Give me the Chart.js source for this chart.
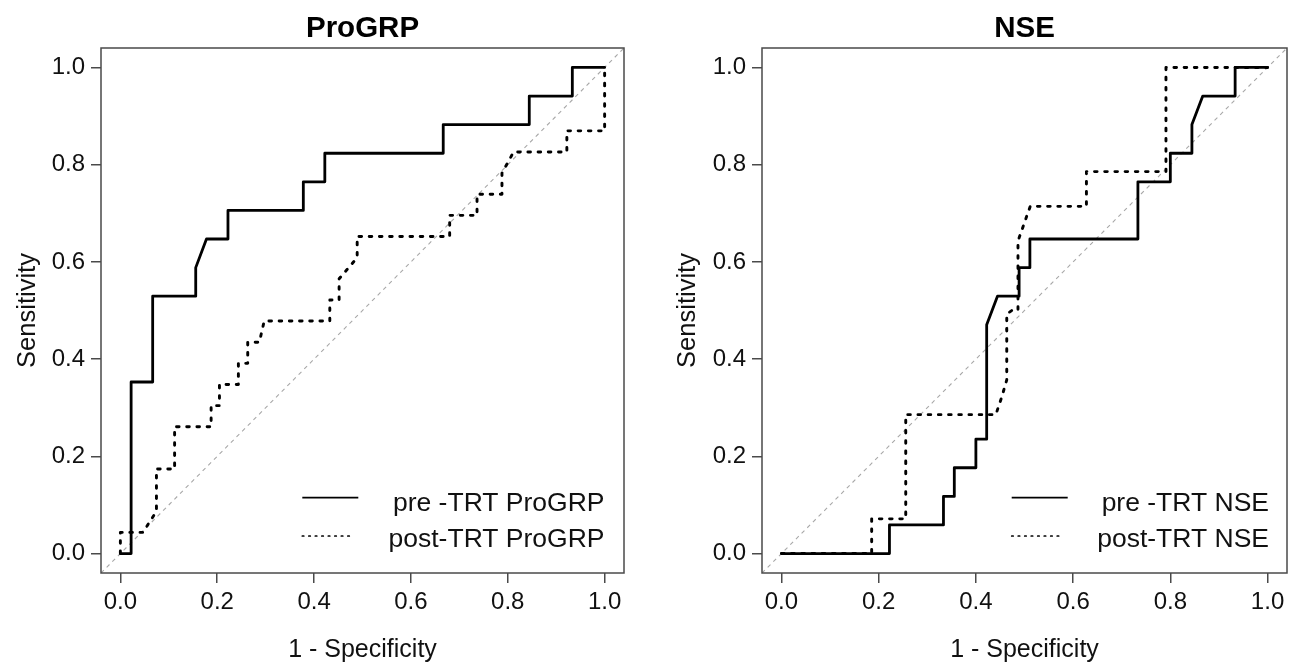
<!DOCTYPE html>
<html><head><meta charset="utf-8">
<script src="https://cdn.jsdelivr.net/npm/chart.js@4"></script>
<style>
html,body{margin:0;padding:0;background:#fff;}
#wrap{position:relative;width:1292px;height:665px;overflow:hidden;}
.c{position:absolute;top:0;width:646px;height:665px;}
</style></head><body>
<div id="wrap">
<div class="c" style="left:0"><canvas id="c1" width="646" height="665"></canvas></div>
<div class="c" style="left:646px"><canvas id="c2" width="646" height="665"></canvas></div>
</div>
<script>
// ---- data ----
const tickValues = [0, 0.2, 0.4, 0.6, 0.8, 1.0];
const tickLabels = ["0.0", "0.2", "0.4", "0.6", "0.8", "1.0"];
const panelTitles = ["ProGRP", "NSE"];
const xAxisTitle = "1 - Specificity";
const yAxisTitle = "Sensitivity";
const progrpLegend = ["pre -TRT ProGRP", "post-TRT ProGRP"];
const nseLegend = ["pre -TRT NSE", "post-TRT NSE"];
const identityX = [-0.04, 1.04];
const identityY = [-0.04, 1.04];

// ProGRP pre-treatment ROC (1-specificity, sensitivity)
const progrpPreFPR = [0, 0.0222, 0.0222, 0.0667, 0.0667, 0.1556, 0.1556, 0.1778, 0.2222, 0.2222, 0.3778, 0.3778, 0.4222, 0.4222, 0.6667, 0.6667, 0.8444, 0.8444, 0.9333, 0.9333, 1];
const progrpPreTPR = [0, 0, 0.3529, 0.3529, 0.5294, 0.5294, 0.5882, 0.6471, 0.6471, 0.7059, 0.7059, 0.7647, 0.7647, 0.8235, 0.8235, 0.8824, 0.8824, 0.9412, 0.9412, 1, 1];
// ProGRP post-treatment ROC
const progrpPostFPR = [0, 0, 0.0466, 0.0745, 0.0745, 0.112, 0.112, 0.1874, 0.1874, 0.2046, 0.2046, 0.2437, 0.2437, 0.263, 0.263, 0.287, 0.297, 0.4325, 0.4325, 0.4517, 0.4517, 0.489, 0.489, 0.680, 0.680, 0.7365, 0.7365, 0.788, 0.788, 0.812, 0.922, 0.922, 1, 1];
const progrpPostTPR = [0, 0.0435, 0.0435, 0.087, 0.1739, 0.1739, 0.2609, 0.2609, 0.3043, 0.3043, 0.3478, 0.3478, 0.3913, 0.3913, 0.4348, 0.4348, 0.4783, 0.4783, 0.5217, 0.5217, 0.5652, 0.6087, 0.6522, 0.6522, 0.6957, 0.6957, 0.7391, 0.7391, 0.7826, 0.8261, 0.8261, 0.8696, 0.8696, 1];
// NSE pre-treatment ROC
const nsePreFPR = [0, 0.2222, 0.2222, 0.3333, 0.3333, 0.3556, 0.3556, 0.4, 0.4, 0.4222, 0.4222, 0.4444, 0.4889, 0.4889, 0.5111, 0.5111, 0.7333, 0.7333, 0.8, 0.8, 0.8444, 0.8444, 0.8667, 0.9333, 0.9333, 1];
const nsePreTPR = [0, 0, 0.0588, 0.0588, 0.1176, 0.1176, 0.1765, 0.1765, 0.2353, 0.2353, 0.4706, 0.5294, 0.5294, 0.5882, 0.5882, 0.6471, 0.6471, 0.7647, 0.7647, 0.8235, 0.8235, 0.8824, 0.9412, 0.9412, 1, 1];
// NSE post-treatment ROC
const nsePostFPR = [0, 0.1856, 0.1856, 0.2557, 0.2557, 0.441, 0.453, 0.4635, 0.4635, 0.474, 0.4866, 0.4866, 0.5118, 0.6274, 0.6274, 0.791, 0.791, 1];
const nsePostTPR = [0, 0, 0.0714, 0.0714, 0.2857, 0.2857, 0.3214, 0.3571, 0.4929, 0.5, 0.5, 0.6429, 0.7143, 0.7143, 0.7857, 0.7857, 1, 1];

// ---- styling ----
const FONT = "'Liberation Sans', Arial, Helvetica, sans-serif";
const solidStyle = { borderWidth: 2.8, borderDash: [], borderCapStyle: 'round' };
const dottedStyle = { borderWidth: 2.9, borderDash: [2.6, 7.6], borderCapStyle: 'round' };

function pts(xs, ys) { return xs.map((x, i) => ({ x: x, y: ys[i] })); }
function curve(label, xs, ys, style) {
  return Object.assign({
    label: label, data: pts(xs, ys), showLine: true, borderColor: '#000',
    borderJoinStyle: 'round', pointRadius: 0, pointHoverRadius: 0, fill: false, tension: 0, order: 1
  }, style);
}
function identity() {
  return { label: 'identity', data: pts(identityX, identityY), showLine: true, borderColor: '#a8a8a8',
    borderWidth: 1.1, borderDash: [4, 4], pointRadius: 0, fill: false, tension: 0, order: 5 };
}

const decor = {
  id: 'decor',
  afterDraw(chart, args, o) {
    const ctx = chart.ctx, a = chart.chartArea;
    const cx = (a.left + a.right) / 2, cy = (a.top + a.bottom) / 2;
    ctx.save();
    // box
    ctx.strokeStyle = '#4a4a4a'; ctx.lineWidth = 1.5; ctx.setLineDash([]);
    ctx.strokeRect(a.left, a.top, a.right - a.left, a.bottom - a.top);
    // title
    ctx.fillStyle = '#000';
    ctx.textAlign = 'center'; ctx.textBaseline = 'alphabetic';
    ctx.font = 'bold 29.5px ' + FONT;
    ctx.fillText(o.title, cx, 37);
    // axis titles
    ctx.font = '25px ' + FONT; ctx.fillStyle = '#111';
    ctx.textBaseline = 'middle';
    ctx.fillText(xAxisTitle, cx, 650);
    ctx.save();
    ctx.translate(o.yTitleX, cy); ctx.rotate(-Math.PI / 2);
    ctx.font = '25.5px ' + FONT;
    ctx.fillText(yAxisTitle, 0, 0);
    ctx.restore();
    // legend
    const ds = chart.data.datasets;
    const L = o.legend;
    const rows = [{ d: ds[0], y: 497.7, x2: L.x1 + 56, lw: 1.8, dash: [] },
                  { d: ds[1], y: 536, x2: L.x1 + 51, lw: 1.7, dash: [1.5, 5.0] }];
    ctx.strokeStyle = '#000';
    rows.forEach((r, i) => {
      ctx.lineWidth = r.lw; ctx.setLineDash(r.dash); ctx.lineCap = i ? 'round' : 'butt';
      ctx.beginPath(); ctx.moveTo(L.x1, r.y); ctx.lineTo(r.x2, r.y); ctx.stroke();
      ctx.font = '26.5px ' + FONT; ctx.fillStyle = '#111';
      ctx.textAlign = 'right'; ctx.textBaseline = 'alphabetic';
      ctx.fillText(r.d.label, L.textRight, i ? 546.5 : 510.5);
    });
    ctx.restore();
  }
};

function makeChart(id, title, legendLabels, preX, preY, postX, postY, yWidth, padRight, yTitleX, legendOpts) {
  new Chart(document.getElementById(id), {
    type: 'scatter',
    data: { datasets: [
      curve(legendLabels[0], preX, preY, solidStyle),
      curve(legendLabels[1], postX, postY, dottedStyle),
      identity()
    ] },
    options: {
      responsive: false, animation: false, events: [],
      layout: { padding: { left: 0, right: padRight, top: 48, bottom: 0 } },
      plugins: { legend: { display: false }, tooltip: { enabled: false },
        decor: { title: title, yTitleX: yTitleX, legend: legendOpts } },
      scales: {
        x: {
          type: 'linear', min: -0.04, max: 1.04,
          afterBuildTicks: s => { s.ticks = tickValues.map(v => ({ value: v })); },
          afterFit: s => { s.height = 92; },
          ticks: { callback: (v, i) => tickLabels[i], font: { family: FONT, size: 24 }, color: '#111',
                   padding: 5, maxRotation: 0, autoSkip: false },
          grid: { display: true, drawOnChartArea: false, drawTicks: true, tickLength: 10, color: '#4a4a4a', lineWidth: 1.5 },
          border: { display: false }
        },
        y: {
          type: 'linear', min: -0.04, max: 1.04,
          afterBuildTicks: s => { s.ticks = tickValues.map(v => ({ value: v })); },
          afterFit: s => { s.width = yWidth; },
          ticks: { callback: (v, i) => tickLabels[i], font: { family: FONT, size: 24 }, color: '#111',
                   padding: 6, autoSkip: false },
          grid: { display: true, drawOnChartArea: false, drawTicks: true, tickLength: 10, color: '#4a4a4a', lineWidth: 1.5 },
          border: { display: false }
        }
      }
    },
    plugins: [decor]
  });
}

makeChart('c1', panelTitles[0], progrpLegend, progrpPreFPR, progrpPreTPR, progrpPostFPR, progrpPostTPR,
  101, 22, 28, { x1: 302.3, textRight: 604.5 });
makeChart('c2', panelTitles[1], nseLegend, nsePreFPR, nsePreTPR, nsePostFPR, nsePostTPR,
  116, 5, 42, { x1: 365.7, textRight: 623 });
</script>
</body></html>
